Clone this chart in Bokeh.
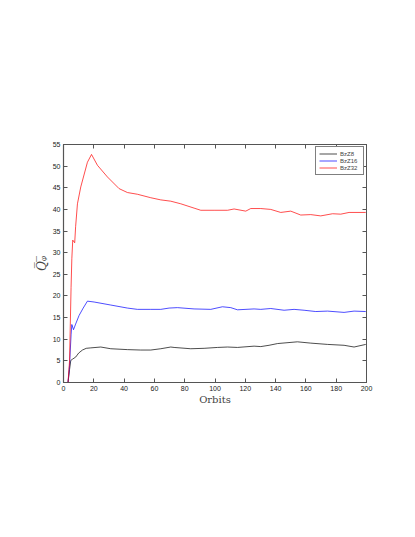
from bokeh.plotting import figure
from bokeh.models import LinearAxis, FixedTicker, Range1d, Legend, LegendItem
from bokeh.embed import file_html
from bokeh.resources import INLINE

# ---- data ----
x_bzz8 = [0, 3, 4, 4.8, 6, 8.1, 10, 12.5, 15, 18, 24.6, 31.2, 42.2, 51, 57.6, 64.2,
          70.8, 73, 84, 92.8, 101.6, 108.3, 114.8, 125.8, 130.2, 135.7, 141.3, 154.4,
          163.2, 174.3, 185.2, 191.8, 199.5]
y_bzz8 = [0, 0, 3, 5.1, 5.4, 5.9, 6.8, 7.5, 7.9, 8.0, 8.2, 7.8, 7.6, 7.5, 7.5, 7.8,
          8.2, 8.1, 7.8, 7.9, 8.1, 8.2, 8.1, 8.4, 8.3, 8.6, 9.0, 9.4,
          9.1, 8.8, 8.6, 8.2, 8.8]

x_bzz16 = [0, 3, 4, 5, 5.5, 6.6, 8, 10.3, 13, 15.8, 20.2, 31.2, 42.2, 48.8, 57.6, 64.2,
           69.7, 75.2, 86.2, 97.2, 104.9, 110.4, 114.8, 125.8, 130.2, 136.8, 145.6,
           152.2, 158.8, 166.5, 174.3, 185.2, 191.8, 199.5]
y_bzz16 = [0, 0, 4, 11, 13.4, 12.2, 13.5, 15.5, 17.2, 18.8, 18.6, 17.9, 17.2, 16.9, 16.9, 16.9,
           17.2, 17.3, 17.0, 16.9, 17.5, 17.3, 16.8, 17.0, 16.9, 17.1, 16.7,
           16.9, 16.7, 16.4, 16.5, 16.2, 16.5, 16.4]

x_bzz32 = [0, 3, 4, 5, 5.5, 6.1, 7.4, 8, 9.2, 11.4, 15.8, 18.5, 22.4, 29, 36.7, 42.2,
           48.8, 57.6, 64.2, 70.8, 77.4, 86.2, 90.6, 99.4, 108.3, 112.6, 120.3, 123.6,
           130.2, 136.8, 143.4, 150, 156.6, 163.2, 169.8, 177.6, 183, 188.5, 199.5]
y_bzz32 = [0, 0, 5, 22, 28.6, 32.9, 32.3, 36, 41.3, 45.2, 50.9, 52.7, 50.2, 47.5, 44.8, 43.9,
           43.5, 42.7, 42.2, 41.9, 41.3, 40.3, 39.8, 39.8, 39.8, 40.1, 39.6, 40.2,
           40.2, 40.0, 39.3, 39.6, 38.7, 38.8, 38.5, 39.0, 38.9, 39.3, 39.3]

series_names = ["BzZ8", "BzZ16", "BzZ32"]
x_ticks = list(range(0, 201, 20))
y_ticks = list(range(0, 56, 5))

# ---- figure ----
p = figure(width=396, height=436, output_backend="svg", toolbar_location=None,
           x_range=Range1d(0, 200), y_range=Range1d(0, 55),
           min_border_left=63, min_border_right=30, min_border_top=144, min_border_bottom=54)
p.background_fill_color = "white"
p.border_fill_color = "white"
p.grid.visible = False
p.outline_line_color = "#555555"
p.outline_line_width = 1

TICK_FONT = "Liberation Sans"
for ax in [p.xaxis[0], p.yaxis[0]]:
    ax.major_tick_in = 4
    ax.major_tick_out = 0
    ax.minor_tick_line_color = None
    ax.axis_line_color = "#555555"
    ax.axis_line_width = 1.2
    ax.major_tick_line_color = "#555555"
    ax.major_label_text_font = TICK_FONT
    ax.major_label_text_font_size = "7px"
    ax.major_label_text_color = "#222222"
    ax.major_label_standoff = 3

p.xaxis[0].ticker = FixedTicker(ticks=x_ticks)
p.yaxis[0].ticker = FixedTicker(ticks=y_ticks)

p.xaxis[0].axis_label = "Orbits"
p.xaxis[0].axis_label_text_font = "DejaVu Serif"
p.xaxis[0].axis_label_text_font_style = "normal"
p.xaxis[0].axis_label_text_font_size = "10px"
p.xaxis[0].axis_label_standoff = 0

p.yaxis[0].axis_label = "Q\u0305\u1D69\u0305"
p.yaxis[0].axis_label_text_font = "DejaVu Serif"
p.yaxis[0].axis_label_text_font_style = "italic"
p.yaxis[0].axis_label_text_font_size = "12px"
p.yaxis[0].axis_label_standoff = 1

# box axes (ticks only, no labels)
top = LinearAxis(ticker=FixedTicker(ticks=x_ticks), major_label_text_color=None,
                 major_tick_in=4, major_tick_out=0, minor_tick_line_color=None,
                 axis_line_color="#555555", major_tick_line_color="#555555",
                 major_label_standoff=0, major_label_text_font_size="1px")
right = LinearAxis(ticker=FixedTicker(ticks=y_ticks), major_label_text_color=None,
                   major_tick_in=4, major_tick_out=0, minor_tick_line_color=None,
                   axis_line_color="#555555", major_tick_line_color="#555555",
                   major_label_standoff=0, major_label_text_font_size="1px")
p.add_layout(top, "above")
p.add_layout(right, "right")

r1 = p.line(x_bzz8, y_bzz8, line_color="black", line_width=0.7)
r2 = p.line(x_bzz16, y_bzz16, line_color="blue", line_width=0.7)
r3 = p.line(x_bzz32, y_bzz32, line_color="red", line_width=0.7)

legend = Legend(items=[LegendItem(label=series_names[0], renderers=[r1]),
                       LegendItem(label=series_names[1], renderers=[r2]),
                       LegendItem(label=series_names[2], renderers=[r3])],
                location="top_right")
legend.margin = 2
legend.padding = 3
legend.spacing = 0
legend.label_text_font = TICK_FONT
legend.label_text_font_size = "6px"
legend.label_height = 7
legend.glyph_height = 7
legend.glyph_width = 18
legend.label_standoff = 3
legend.border_line_color = "black"
legend.border_line_width = 0.7
legend.background_fill_alpha = 1
p.add_layout(legend, "center")

open("out.html", "w").write(file_html(p, INLINE))
